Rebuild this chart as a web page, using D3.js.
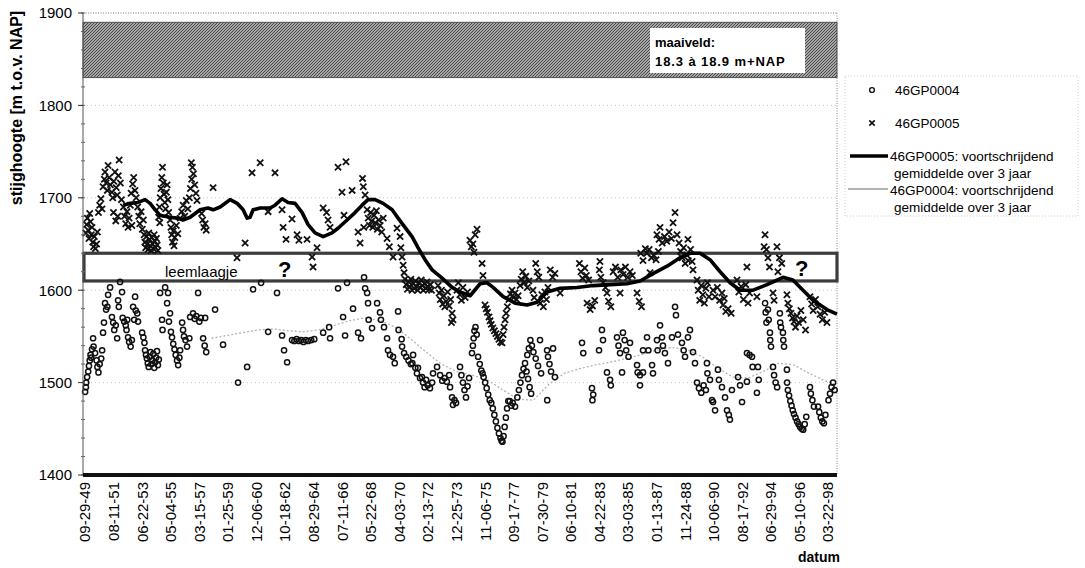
<!DOCTYPE html>
<html>
<head>
<meta charset="utf-8">
<script src="https://cdn.jsdelivr.net/npm/d3@7"></script>
<style>
  body { margin: 0; background: #fff; }
  svg { display: block; font-family: Arial, "Liberation Sans", sans-serif; }
</style>
</head>
<body>
<svg id="chart" width="1085" height="568"></svg>
<script>
// x-axis tick labels (mm-dd-yy)
const tickLabels = ["09-29-49","08-11-51","06-22-53","05-04-55","03-15-57","01-25-59","12-06-60",
  "10-18-62","08-29-64","07-11-66","05-22-68","04-03-70","02-13-72","12-25-73","11-06-75",
  "09-17-77","07-30-79","06-10-81","04-22-83","03-03-85","01-13-87","11-24-88","10-06-90",
  "08-17-92","06-29-94","05-10-96","03-22-98"];

const yTicks = [1400, 1500, 1600, 1700, 1800, 1900];

// surface level band and loam layer (cm + NAP)
const maaiveld = [1830, 1890];
const leemlaag = [1610, 1640];

// 46GP0004 measurements: [decimal year, stijghoogte cm+NAP]
const gp0004 = [
  [1949.75,1490],[1949.80,1495],[1949.82,1500],[1949.88,1506],[1949.95,1512],[1950.00,1518],[1950.05,1524],
  [1950.10,1530],[1950.15,1527],[1950.20,1536],[1950.27,1548],[1950.30,1539],[1950.40,1532],[1950.50,1524],
  [1950.55,1517],[1950.62,1511],[1950.70,1520],[1950.80,1526],[1950.86,1535],[1950.92,1554],[1950.98,1565],
  [1951.05,1586],[1951.12,1579],[1951.20,1582],[1951.25,1595],[1951.38,1603],
  [1951.50,1571],[1951.58,1565],[1951.65,1557],[1951.75,1562],[1951.84,1548],[1951.90,1589],[1951.95,1582],
  [1952.16,1598],[1952.03,1609],[1952.20,1570],[1952.30,1566],[1952.40,1562],[1952.50,1568],
  [1952.45,1557],[1952.55,1549],[1952.62,1544],[1952.72,1539],[1952.80,1546],
  [1953.01,1593],[1952.88,1582],[1953.05,1578],[1953.15,1575],[1952.95,1568],[1953.20,1566],
  [1953.47,1554],[1953.55,1549],[1953.62,1543],
  [1953.66,1535],[1953.72,1530],[1953.78,1526],[1953.84,1521],[1953.90,1517],[1953.96,1528],[1954.02,1533],
  [1954.08,1520],[1954.14,1524],[1954.20,1531],[1954.26,1516],[1954.32,1522],[1954.38,1527],[1954.44,1534],
  [1954.50,1519],[1954.56,1525],
  [1954.64,1597],[1954.77,1568],[1954.80,1557],[1954.97,1603],[1955.10,1586],[1955.16,1597],[1955.29,1575],
  [1955.22,1566],[1955.35,1555],
  [1955.42,1549],[1955.50,1542],[1955.58,1536],[1955.66,1530],[1955.75,1524],[1955.82,1519],[1955.90,1527],
  [1955.95,1535],
  [1956.08,1565],[1956.14,1557],[1956.20,1550],[1956.30,1546],[1956.40,1539],[1956.55,1548],[1956.60,1571],
  [1956.79,1575],[1956.90,1569],[1957.00,1572],[1957.12,1597],[1957.20,1566],[1957.30,1570],[1957.58,1570],
  [1957.45,1548],[1957.55,1540],[1957.65,1533],
  [1958.23,1579],[1958.75,1541],[1959.73,1500],[1960.32,1517],[1960.71,1601],[1961.23,1608],
  [1962.27,1597],[1961.69,1555],[1962.60,1551],[1962.73,1535],[1962.93,1522],
  [1963.25,1546],[1963.40,1545],[1963.55,1547],[1963.70,1545],[1963.85,1546],[1964.00,1544],[1964.15,1546],
  [1964.30,1545],[1964.50,1546],[1964.70,1547],
  [1965.28,1554],[1965.67,1560],[1965.73,1548],
  [1966.25,1602],[1966.84,1608],[1966.58,1571],[1967.23,1580],[1966.71,1551],
  [1967.56,1554],[1967.75,1548],
  [1967.95,1614],[1968.02,1602],[1968.15,1597],[1968.21,1586],[1968.25,1568],
  [1968.47,1559],[1968.80,1586],[1968.99,1576],[1969.05,1568],[1969.25,1560],
  [1970.17,1577],[1970.20,1557],[1970.40,1547],
  [1969.45,1548],[1969.51,1535],[1969.64,1530],[1969.84,1528],[1969.95,1521],
  [1970.43,1539],[1970.56,1532],[1970.70,1528],[1970.85,1524],[1971.00,1520],[1971.15,1530],[1971.30,1516],
  [1971.47,1516],[1971.10,1521],[1971.40,1510],[1971.60,1505],
  [1971.73,1506],[1971.80,1500],[1971.90,1495],[1972.00,1503],[1972.10,1497],[1972.25,1494],[1972.39,1500],
  [1972.45,1510],[1972.71,1517],
  [1972.91,1508],[1973.05,1502],[1973.20,1505],[1973.35,1501],[1973.50,1508],[1973.56,1495],
  [1973.69,1484],[1973.75,1476],[1973.85,1481],[1973.95,1478],
  [1974.21,1517],[1974.30,1508],[1974.40,1500],[1974.50,1492],[1974.60,1484],[1974.70,1496],[1974.80,1505],
  [1974.99,1532],[1975.05,1540],[1975.10,1548],[1975.15,1556],[1975.22,1560],[1975.30,1552],
  [1975.39,1528],[1975.50,1520],[1975.60,1513],[1975.68,1510],
  [1975.75,1506],[1975.85,1500],[1975.95,1494],[1976.05,1487],[1976.15,1481],
  [1976.25,1478],[1976.35,1472],[1976.45,1465],[1976.55,1458],[1976.65,1451],[1976.75,1445],[1976.85,1440],
  [1976.92,1437],[1976.98,1436],
  [1977.05,1442],[1977.12,1452],[1977.20,1462],[1977.28,1472],[1977.36,1480],
  [1977.45,1480],[1977.55,1475],[1977.65,1478],[1977.80,1474],
  [1977.95,1484],[1978.05,1492],[1978.15,1500],[1978.25,1508],[1978.35,1515],[1978.45,1521],[1978.55,1512],
  [1978.65,1504],[1978.75,1495],[1978.85,1488],
  [1978.60,1530],[1978.70,1537],[1978.80,1546],[1978.90,1540],[1979.00,1533],[1979.15,1526],[1979.30,1518],
  [1979.43,1546],[1979.50,1510],
  [1979.89,1535],[1979.95,1528],[1980.05,1520],[1980.15,1512],[1980.28,1537],[1980.40,1506],[1979.90,1481],
  [1982.17,1543],[1982.25,1532],[1982.82,1494],[1982.90,1487],[1982.85,1481],
  [1983.28,1535],[1983.47,1557],[1983.54,1546],[1983.80,1511],[1984.00,1503],[1984.05,1497],
  [1984.45,1549],[1984.55,1540],[1984.65,1532],[1984.84,1554],[1984.95,1546],[1985.05,1535],[1985.20,1528],
  [1985.30,1543],
  [1984.78,1511],[1985.76,1519],[1985.80,1511],[1985.95,1508],[1986.15,1511],[1985.95,1497],
  [1986.15,1535],[1986.41,1549],[1986.50,1535],[1986.74,1519],[1986.80,1510],[1987.06,1546],[1987.10,1535],
  [1987.26,1562],
  [1987.39,1549],[1987.45,1540],[1987.58,1532],[1987.78,1521],[1988.04,1549],[1988.24,1582],[1988.30,1573],
  [1988.43,1552],
  [1988.69,1543],[1988.80,1535],[1988.89,1528],[1989.21,1557],[1989.08,1549],[1989.41,1533],[1989.54,1521],
  [1989.67,1500],[1989.80,1494],[1989.95,1489],[1990.10,1497],[1990.25,1492],
  [1990.32,1521],[1990.35,1510],[1990.52,1503],[1990.65,1481],[1990.72,1479],[1990.85,1470],
  [1991.04,1514],[1991.10,1503],[1991.30,1495],[1991.50,1484],[1991.63,1470],[1991.75,1465],[1991.82,1460],
  [1991.95,1492],[1992.35,1506],[1992.48,1497],[1992.61,1479],[1992.93,1501],
  [1992.93,1532],[1993.10,1530],[1993.26,1528],[1993.30,1517],[1993.58,1489],[1993.65,1517],[1993.70,1503],
  [1994.11,1586],[1994.15,1576],[1994.20,1565],[1994.30,1579],[1994.35,1568],[1994.43,1554],[1994.45,1546],
  [1994.50,1539],
  [1994.63,1517],[1994.70,1508],[1994.80,1500],[1994.90,1495],
  [1995.08,1575],[1995.10,1565],[1995.15,1560],[1995.28,1554],[1995.30,1546],[1995.35,1539],
  [1995.54,1514],[1995.55,1500],
  [1995.60,1492],[1995.68,1486],[1995.76,1480],[1995.84,1475],[1995.92,1470],[1996.00,1466],[1996.10,1462],
  [1996.20,1458],[1996.30,1455],[1996.40,1452],[1996.50,1450],[1996.60,1449],[1996.70,1455],[1996.80,1463],
  [1997.04,1495],[1997.10,1488],[1997.20,1481],[1997.30,1474],
  [1997.57,1474],[1997.65,1468],[1997.75,1462],[1997.85,1458],[1997.95,1456],[1998.05,1465],
  [1998.25,1481],[1998.35,1488],[1998.45,1495],[1998.55,1500],[1998.65,1492]
];

// 46GP0005 measurements: [decimal year, stijghoogte cm+NAP]
const gp0005 = [
  [1949.80,1662],[1949.85,1671],[1949.90,1678],[1949.95,1665],[1950.00,1656],[1950.05,1683],[1950.10,1674],
  [1950.15,1660],[1950.20,1668],[1950.25,1652],[1950.30,1647],[1950.35,1658],[1950.42,1645],[1950.50,1650],
  [1950.55,1663],
  [1950.62,1684],[1950.70,1692],[1950.78,1699],[1950.85,1688],
  [1950.92,1712],[1951.00,1720],[1951.05,1728],[1951.12,1716],[1951.20,1708],[1951.25,1735],[1951.32,1722],
  [1951.40,1714],[1951.97,1741],
  [1951.50,1706],[1951.55,1700],[1951.62,1718],[1951.70,1728],[1951.78,1711],[1951.85,1703],[1951.92,1724],
  [1952.05,1716],[1952.12,1698],
  [1951.60,1684],[1951.75,1675],[1951.88,1680],
  [1952.25,1690],[1952.32,1680],[1952.40,1672],[1952.48,1685],[1952.55,1668],[1952.62,1678],[1952.70,1692],
  [1952.80,1670],
  [1952.75,1705],[1952.85,1715],[1952.92,1722],[1953.00,1708],[1953.08,1700],
  [1953.18,1690],[1953.25,1680],[1953.32,1672],[1953.40,1685],[1953.48,1666],[1953.55,1676],
  [1953.60,1660],[1953.65,1652],[1953.70,1646],[1953.75,1658],[1953.80,1650],[1953.85,1644],[1953.90,1662],
  [1953.95,1655],[1954.00,1648],[1954.05,1643],[1954.10,1657],[1954.15,1650],[1954.20,1645],[1954.25,1660],
  [1954.30,1653],[1954.35,1646],[1954.40,1656],[1954.45,1649],[1954.50,1643],
  [1954.55,1679],[1954.60,1690],[1954.65,1700],[1954.70,1710],[1954.75,1722],[1954.80,1733],[1954.85,1716],
  [1954.90,1704],[1954.95,1695],[1955.00,1688],[1955.05,1706],[1955.10,1714],[1955.15,1698],[1955.20,1684],
  [1954.62,1673],
  [1955.30,1676],[1955.35,1668],[1955.40,1660],[1955.45,1652],[1955.50,1664],[1955.55,1648],[1955.60,1657],
  [1955.70,1670],[1955.80,1661],
  [1955.95,1678],[1956.05,1685],[1956.15,1692],[1956.25,1680],[1956.35,1697],[1956.45,1688],
  [1956.55,1700],[1956.62,1710],[1956.70,1720],[1956.75,1733],[1956.82,1726],[1956.90,1714],[1956.98,1705],
  [1957.05,1697],[1956.68,1738],
  [1957.35,1683],[1957.42,1676],[1957.50,1668],[1957.58,1672],[1957.65,1665],
  [1958.10,1711],[1959.66,1635],[1960.19,1651],[1960.64,1727],[1961.17,1738],[1961.69,1685],[1962.14,1727],
  [1962.60,1687],[1962.67,1668],[1962.86,1655],[1963.25,1677],[1963.58,1660],[1963.70,1654],[1964.23,1655],
  [1964.56,1636],[1964.62,1625],[1964.88,1646],
  [1965.28,1689],[1965.50,1684],[1965.60,1676],[1965.73,1668],
  [1966.25,1733],[1966.51,1706],[1966.64,1681],[1966.77,1739],[1967.17,1708],[1967.56,1663],[1967.69,1651],
  [1967.85,1721],[1967.90,1712],[1967.93,1668],[1968.02,1703],
  [1968.15,1687],[1968.22,1678],[1968.30,1670],[1968.38,1684],[1968.45,1675],[1968.52,1668],[1968.60,1681],
  [1968.68,1673],[1968.75,1686],[1968.82,1666],[1968.90,1676],[1969.00,1670],[1969.10,1663],[1969.20,1678],
  [1969.45,1656],[1969.60,1647],[1969.84,1636],
  [1970.10,1667],[1970.30,1658],[1970.35,1646],[1970.43,1636],[1970.50,1627],[1970.56,1619],
  [1970.62,1612],[1970.70,1606],[1970.78,1601],[1970.85,1609],[1970.92,1604],[1971.00,1612],[1971.08,1600],
  [1971.15,1607],[1971.22,1602],[1971.30,1610],[1971.38,1604],[1971.45,1600],[1971.52,1608],[1971.60,1603],
  [1971.68,1611],[1971.75,1605],[1971.82,1600],[1971.90,1607],[1971.98,1602],[1972.05,1609],[1972.12,1604],
  [1972.20,1601],[1972.28,1606],[1972.35,1600],
  [1972.78,1605],[1972.85,1597],[1972.92,1590],[1973.00,1600],[1973.08,1585],[1973.15,1594],[1973.22,1582],
  [1973.30,1588],[1973.40,1598],[1973.50,1583],[1973.60,1590],
  [1973.69,1575],[1973.75,1568],[1973.65,1565],
  [1974.01,1600],[1974.10,1608],[1974.20,1595],[1974.30,1589],[1974.40,1603],[1974.55,1592],[1974.70,1598],
  [1974.86,1654],[1974.95,1647],[1975.05,1650],[1975.12,1641],[1975.20,1660],[1975.32,1666],[1975.65,1629],
  [1975.71,1616],
  [1975.84,1584],[1975.92,1580],[1976.00,1576],[1976.10,1571],[1976.17,1567],[1976.25,1563],[1976.35,1559],
  [1976.45,1556],[1976.55,1553],[1976.65,1550],[1976.75,1547],[1976.85,1544],[1976.95,1543],
  [1977.02,1552],[1977.08,1560],[1977.15,1568],[1977.22,1575],[1977.30,1582],
  [1977.40,1590],[1977.50,1596],[1977.60,1600],[1977.70,1592],[1977.80,1597],[1977.90,1590],[1978.00,1594],
  [1978.13,1605],[1978.20,1612],[1978.30,1620],[1978.40,1608],[1978.50,1615],[1978.60,1603],[1978.70,1610],
  [1979.15,1629],[1979.25,1620],[1979.35,1614],
  [1978.97,1600],[1979.05,1592],[1979.45,1586],[1979.55,1595],[1979.65,1582],[1979.75,1598],[1979.85,1590],
  [1979.95,1603],
  [1980.10,1622],[1980.25,1614],[1980.40,1618],[1980.74,1597],
  [1982.00,1629],[1982.10,1620],[1982.20,1613],[1982.35,1624],[1982.45,1616],[1982.60,1611],
  [1982.50,1586],[1982.70,1579],[1982.85,1583],[1983.00,1589],
  [1983.34,1631],[1983.30,1622],[1983.40,1614],[1983.55,1608],[1983.70,1603],
  [1983.80,1597],[1983.90,1588],[1984.05,1582],[1984.65,1597],
  [1984.20,1620],[1984.35,1625],[1984.50,1614],[1984.70,1622],[1984.85,1617],[1985.00,1625],[1985.15,1614],
  [1985.30,1620],[1985.45,1616],
  [1985.76,1597],[1985.90,1588],[1986.05,1582],
  [1986.00,1640],[1986.15,1632],[1986.30,1645],[1986.61,1619],
  [1986.40,1640],[1986.55,1644],[1986.70,1635],[1986.85,1638],[1987.00,1633],[1987.15,1642],
  [1987.06,1660],[1987.20,1655],[1987.26,1668],[1987.40,1651],[1987.55,1658],[1987.70,1653],[1987.85,1663],
  [1988.00,1656],
  [1988.11,1673],[1988.24,1684],[1988.37,1660],
  [1988.50,1651],[1988.60,1642],[1988.70,1635],[1988.80,1646],[1988.90,1629],[1989.00,1638],[1989.10,1632],
  [1989.25,1644],[1989.35,1631],[1989.08,1655],[1989.41,1622],
  [1989.67,1611],[1989.75,1600],[1989.85,1589],[1989.95,1605],[1990.05,1595],[1990.15,1586],[1990.25,1602],
  [1990.35,1608],[1990.45,1593],
  [1990.72,1600],[1990.85,1593],[1991.00,1603],[1991.15,1589],[1991.30,1597],[1991.45,1591],
  [1991.37,1584],[1991.55,1577],[1991.70,1580],[1991.90,1575],
  [1992.28,1611],[1992.40,1598],[1992.55,1604],[1992.70,1590],[1992.85,1606],[1993.00,1586],[1993.10,1597],
  [1992.93,1625],[1993.58,1593],
  [1994.11,1660],[1994.05,1647],[1994.20,1644],[1994.30,1635],[1994.40,1625],
  [1994.89,1647],[1995.05,1635],[1995.20,1629],[1994.95,1620],[1994.63,1597],[1994.70,1589],
  [1995.54,1595],
  [1995.60,1586],[1995.70,1580],[1995.80,1575],[1995.90,1570],[1996.00,1566],[1996.10,1560],[1996.20,1572],
  [1996.30,1565],[1996.45,1578],[1996.60,1568],[1996.75,1557],
  [1997.04,1593],[1997.15,1585],[1997.25,1578],[1997.40,1590],[1997.55,1582],[1997.70,1574],[1997.85,1568],
  [1998.00,1576],[1998.15,1565]
];

// 3-year moving average of 46GP0005
const gp0005Avg = [
  [1952.23,1692],[1952.69,1694],[1953.21,1695],[1953.66,1698],[1953.99,1694],[1954.32,1687],[1954.64,1681],
  [1955.29,1679],[1955.75,1678],[1956.14,1676],[1956.60,1679],[1957.25,1687],[1957.77,1689],[1958.10,1687],
  [1958.56,1690],[1959.21,1698],[1959.67,1694],[1960.06,1687],[1960.32,1678],[1960.51,1679],[1960.71,1687],
  [1961.17,1689],[1961.82,1689],[1962.14,1692],[1962.60,1699],[1962.99,1695],[1963.45,1694],[1963.91,1684],
  [1964.30,1671],[1964.75,1662],[1965.28,1658],[1965.86,1662],[1966.25,1667],[1966.84,1676],[1967.36,1684],
  [1967.82,1692],[1968.21,1698],[1968.67,1698],[1969.19,1694],[1969.78,1687],[1970.17,1678],[1970.62,1668],
  [1971.08,1658],[1971.47,1646],[1971.93,1633],[1972.39,1622],[1973.04,1613],[1973.69,1603],[1974.21,1598],
  [1974.87,1594],[1975.52,1607],[1975.97,1608],[1976.37,1603],[1977.02,1593],[1977.80,1586],[1978.58,1584],
  [1979.24,1587],[1979.89,1598],[1980.74,1602],[1981.84,1603],[1982.89,1605],[1984.00,1606],[1985.11,1607],
  [1985.96,1610],[1986.80,1618],[1987.72,1626],[1988.56,1635],[1989.22,1640],[1989.87,1640],[1990.52,1633],
  [1991.18,1620],[1991.83,1608],[1992.48,1600],[1993.33,1600],[1994.24,1606],[1994.89,1611],[1995.28,1614],
  [1995.93,1611],[1996.59,1600],[1997.24,1589],[1998.15,1579],[1998.80,1574]
];

// 3-year moving average of 46GP0004
const gp0004Avg = [
  [1958.0,1548],[1959.0,1551],[1960.0,1554],[1961.0,1557],[1962.0,1558],[1963.0,1556],[1964.0,1555],
  [1965.0,1557],[1966.0,1562],[1967.0,1567],[1968.0,1570],[1969.0,1567],[1970.0,1560],[1971.0,1547],
  [1972.0,1533],[1973.0,1520],[1974.0,1512],[1975.0,1508],[1976.0,1503],[1977.0,1492],[1978.0,1482],
  [1979.0,1481],[1980.0,1498],[1981.0,1510],[1982.0,1515],[1983.0,1519],[1984.0,1522],[1985.0,1526],
  [1986.0,1530],[1987.0,1535],[1988.0,1538],[1989.0,1536],[1990.0,1528],[1991.0,1516],[1992.0,1506],
  [1993.0,1505],[1994.0,1512],[1995.0,1521],[1996.0,1519],[1997.0,1510],[1998.0,1502],[1998.7,1498]
];

const legendItems = [
  {type: "circle", lines: ["46GP0004"]},
  {type: "cross", lines: ["46GP0005"]},
  {type: "thick", lines: ["46GP0005: voortschrijdend", "gemiddelde over 3 jaar"]},
  {type: "thin", lines: ["46GP0004: voortschrijdend", "gemiddelde over 3 jaar"]}
];

// ---------- helpers ----------
function fromDecimalYear(v) {
  const yr = Math.floor(v);
  const a = Date.UTC(yr, 0, 1), b = Date.UTC(yr + 1, 0, 1);
  return new Date(a + (v - yr) * (b - a));
}
function parseLabel(s) {
  const [m, d, y] = s.split("-").map(Number);
  return new Date(Date.UTC(1900 + y, m - 1, d));
}

const svg = d3.select("#chart");
const plot = {left: 83, right: 837, top: 13, bottom: 475};

const x = d3.scaleUtc()
  .domain([new Date(Date.UTC(1949, 7, 12)), new Date(Date.UTC(1998, 9, 22))])
  .range([plot.left, plot.right]);
const y = d3.scaleLinear().domain([1400, 1900]).range([plot.bottom, plot.top]);

// ---------- patterns ----------
const defs = svg.append("defs");
const hatch = defs.append("pattern")
  .attr("id", "hatch").attr("patternUnits", "userSpaceOnUse")
  .attr("width", 3).attr("height", 3);
hatch.append("rect").attr("width", 3).attr("height", 3).attr("fill", "#a6a6a6");
hatch.append("path").attr("d", "M-1,1 l2,-2 M0,3 l3,-3 M2,4 l2,-2")
  .attr("stroke", "#4a4a4a").attr("stroke-width", 1);

// ---------- grid ----------
const grid = svg.append("g");
grid.selectAll("line.h").data(yTicks.filter(v => v > 1400 && v < 1900)).join("line")
  .attr("x1", plot.left).attr("x2", plot.right)
  .attr("y1", d => y(d)).attr("y2", d => y(d))
  .attr("stroke", "#c8c8c8").attr("stroke-width", 1).attr("stroke-dasharray", "1,3");
// plot frame: dotted top and right
grid.append("line").attr("x1", plot.left).attr("x2", plot.right)
  .attr("y1", y(1900)).attr("y2", y(1900))
  .attr("stroke", "#777").attr("stroke-dasharray", "1,1.5");
grid.append("line").attr("x1", plot.right).attr("x2", plot.right)
  .attr("y1", y(1900)).attr("y2", y(1400))
  .attr("stroke", "#888").attr("stroke-dasharray", "1,1.5");

// ---------- bands ----------
svg.append("rect")
  .attr("x", plot.left).attr("y", y(maaiveld[1]))
  .attr("width", plot.right - plot.left).attr("height", y(maaiveld[0]) - y(maaiveld[1]))
  .attr("fill", "url(#hatch)").attr("stroke", "#3a3a3a").attr("stroke-width", 0.8);

svg.append("rect")
  .attr("x", plot.left + 1).attr("y", y(leemlaag[1]))
  .attr("width", plot.right - plot.left - 1).attr("height", y(leemlaag[0]) - y(leemlaag[1]))
  .attr("fill", "none").attr("stroke", "#3c3c3c").attr("stroke-width", 3.2);

// label box for surface level
const mv = svg.append("g");
mv.append("rect").attr("x", 650).attr("y", 28).attr("width", 155).attr("height", 45).attr("fill", "#fff");
mv.append("text").attr("x", 655).attr("y", 47).attr("font-size", 13).attr("font-weight", "bold")
  .text("maaiveld:");
mv.append("text").attr("x", 655).attr("y", 66).attr("font-size", 13).attr("font-weight", "bold")
  .attr("letter-spacing", 0.9).text("18.3 à 18.9 m+NAP");

svg.append("text").attr("x", 165).attr("y", 277).attr("font-size", 15).text("leemlaagje");
svg.append("text").attr("x", 278).attr("y", 277).attr("font-size", 22).attr("font-weight", "bold").text("?");
svg.append("text").attr("x", 795).attr("y", 276).attr("font-size", 22).attr("font-weight", "bold").text("?");

// ---------- moving averages ----------
const line = d3.line().x(d => x(fromDecimalYear(d[0]))).y(d => y(d[1]));
svg.append("path").datum(gp0004Avg).attr("d", line)
  .attr("fill", "none").attr("stroke", "#b4b4b4").attr("stroke-width", 1.3)
  .attr("stroke-dasharray", "2,2");

// ---------- markers ----------
svg.append("g").selectAll("circle").data(gp0004).join("circle")
  .attr("cx", d => x(fromDecimalYear(d[0]))).attr("cy", d => y(d[1]))
  .attr("r", 2.6).attr("fill", "none").attr("stroke", "#111").attr("stroke-width", 1.5);

const crossPath = s => `M${-s},${-s}L${s},${s}M${-s},${s}L${s},${-s}`;
svg.append("g").selectAll("path").data(gp0005).join("path")
  .attr("transform", d => `translate(${x(fromDecimalYear(d[0]))},${y(d[1])})`)
  .attr("d", crossPath(3.1)).attr("stroke", "#111").attr("stroke-width", 1.8);

svg.append("path").datum(gp0005Avg).attr("d", line)
  .attr("fill", "none").attr("stroke", "#000").attr("stroke-width", 3.6)
  .attr("stroke-linejoin", "round");

// ---------- axes ----------
const yAxis = svg.append("g");
yAxis.append("line").attr("x1", plot.left).attr("x2", plot.left)
  .attr("y1", y(1900)).attr("y2", y(1400)).attr("stroke", "#555");
yAxis.selectAll("line.minor").data(d3.range(1400, 1901, 20)).join("line")
  .attr("x1", plot.left - 2).attr("x2", plot.left + 2)
  .attr("y1", d => y(d)).attr("y2", d => y(d)).attr("stroke", "#666");
yAxis.selectAll("line.major").data(yTicks).join("line")
  .attr("x1", plot.left - 5).attr("x2", plot.left)
  .attr("y1", d => y(d)).attr("y2", d => y(d)).attr("stroke", "#333");
yAxis.selectAll("text").data(yTicks).join("text")
  .attr("x", 72).attr("y", d => y(d)).attr("dy", "0.36em")
  .attr("text-anchor", "end").attr("font-size", 15).text(d => d);

// thick base line at 1400
svg.append("line").attr("x1", plot.left).attr("x2", plot.right)
  .attr("y1", y(1400)).attr("y2", y(1400)).attr("stroke", "#111").attr("stroke-width", 4.2);

const tickDates = tickLabels.map(parseLabel);
svg.append("g").selectAll("text").data(tickDates).join("text")
  .attr("transform", d => `translate(${x(d)},482) rotate(-90)`)
  .attr("dy", "0.36em").attr("text-anchor", "end").attr("font-size", 15)
  .text((d, i) => tickLabels[i]);

// axis titles
svg.append("text").attr("transform", "translate(22,108) rotate(-90)")
  .attr("text-anchor", "middle").attr("font-size", 16).attr("font-weight", "bold")
  .text("stijghoogte [m t.o.v. NAP]");
svg.append("text").attr("x", 840).attr("y", 562).attr("text-anchor", "end")
  .attr("font-size", 14).attr("font-weight", "bold").text("datum");

// ---------- legend ----------
const lg = svg.append("g");
lg.append("rect").attr("x", 845).attr("y", 76).attr("width", 233).attr("height", 140)
  .attr("fill", "none").attr("stroke", "#d0d0d0").attr("stroke-dasharray", "1,2");
const rowY = [90, 123, 156, 190];
legendItems.forEach((it, i) => {
  const g = lg.append("g").attr("transform", `translate(0,${rowY[i]})`);
  if (it.type === "circle") {
    g.append("circle").attr("cx", 872).attr("cy", 0).attr("r", 2.4)
      .attr("fill", "none").attr("stroke", "#111").attr("stroke-width", 1.4);
  } else if (it.type === "cross") {
    g.append("path").attr("transform", "translate(872,0)").attr("d", crossPath(2.7))
      .attr("stroke", "#111").attr("stroke-width", 1.7);
  } else if (it.type === "thick") {
    g.append("line").attr("x1", 850).attr("x2", 888).attr("y1", 0).attr("y2", 0)
      .attr("stroke", "#000").attr("stroke-width", 3.6);
  } else {
    g.append("line").attr("x1", 848).attr("x2", 888).attr("y1", -1).attr("y2", -1)
      .attr("stroke", "#9a9a9a").attr("stroke-width", 1.5);
  }
  const tx = it.type === "circle" || it.type === "cross" ? 895 : 890;
  it.lines.forEach((t, j) => {
    g.append("text").attr("x", j === 0 ? tx : tx + 4).attr("y", j * 17).attr("dy", "0.36em")
      .attr("font-size", 13.5).text(t);
  });
});
</script>
</body>
</html>
